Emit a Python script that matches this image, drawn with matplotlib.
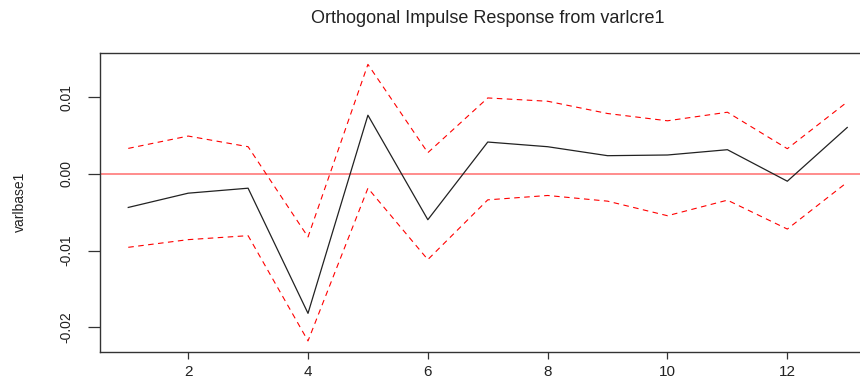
import numpy as np
import matplotlib
matplotlib.use("Agg")
import matplotlib.pyplot as plt

plt.rcParams['font.family'] = ['Liberation Sans', 'DejaVu Sans']

# horizon steps
steps = np.arange(1, 14)

# orthogonal impulse response varlcre1 -> varlbase1
irf = [-0.00437, -0.00251, -0.00186, -0.01818, 0.00766, -0.00597, 0.00416,
       0.00355, 0.00238, 0.00247, 0.00316, -0.00095, 0.00606]
upper = [0.00333, 0.00494, 0.00355, -0.00822, 0.01429, 0.00277, 0.00991,
         0.00948, 0.00788, 0.00693, 0.00805, 0.00329, 0.00939]
lower = [-0.00957, -0.00857, -0.00805, -0.02178, -0.00186, -0.01117, -0.00338,
         -0.00281, -0.00355, -0.00545, -0.00342, -0.00719, -0.00108]

xticks = [2, 4, 6, 8, 10, 12]
yticks = [-0.02, -0.01, 0.00, 0.01]
ytick_labels = ["-0.02", "-0.01", "0.00", "0.01"]

W, H = 860, 378
fig = plt.figure(figsize=(W / 100, H / 100), dpi=100)
# R plot region; right side of the box falls outside the image
ax = fig.add_axes([99.5 / W, 26 / H, (876 - 99.5) / W, (352 - 53.3) / H])

ax.axhline(0, color='#ff8c8c', lw=1.4, zorder=1)
ax.plot(steps, irf, color='#222222', lw=0.9, zorder=3)
ax.plot(steps, upper, color='red', lw=0.8, linestyle=(0, (5, 4)), zorder=2)
ax.plot(steps, lower, color='red', lw=0.8, linestyle=(0, (5, 4)), zorder=2)

# R style 4% extension of the data range
lo = min(lower)
hi = max(upper)
ax.set_ylim(lo - 0.04 * (hi - lo), hi + 0.04 * (hi - lo))
ax.set_xlim(steps[0] - 0.04 * (steps[-1] - steps[0]), steps[-1] + 0.04 * (steps[-1] - steps[0]))

ax.set_xticks(xticks)
ax.set_xticklabels([str(t) for t in xticks], fontsize=11, color='#222222')
ax.set_yticks(yticks)
ax.set_yticklabels(ytick_labels, fontsize=10, rotation=90, va='center', color='#222222')
ax.tick_params(axis='x', length=5, width=0.9, pad=4.5, color='#333333')
ax.tick_params(axis='y', length=8.3, width=0.9, pad=10.5, color='#333333')

for sp in ax.spines.values():
    sp.set_color('#333333')
    sp.set_linewidth(1.0)

ax.text(0.5, (H - 18 - 26) / (352 - 53.3), "Orthogonal Impulse Response from varlcre1",
        transform=ax.transAxes, ha='center', va='center', fontsize=13, color='#222222')
fig.text(19.5 / W, 1 - 202 / H, "varlbase1", rotation=90, ha='center', va='center',
         fontsize=10, color='#222222')

fig.savefig("out.png", dpi=100)
